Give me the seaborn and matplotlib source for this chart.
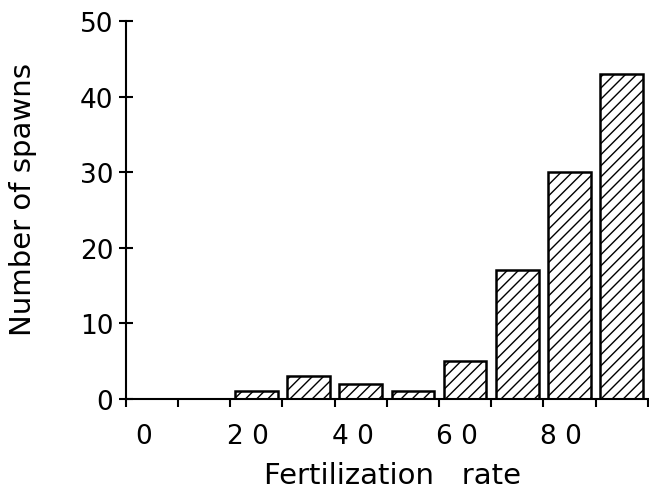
import numpy as np
import pandas as pd
import matplotlib
matplotlib.use('Agg')
import matplotlib.pyplot as plt
import matplotlib.transforms as mtransforms
import seaborn as sns

# fertilization rate bins (%) and number of spawns in each
bin_edges = [0, 10, 20, 30, 40, 50, 60, 70, 80, 90, 100]
bin_mids = [5, 15, 25, 35, 45, 55, 65, 75, 85, 95]
spawns = [0, 0, 1, 3, 2, 1, 5, 17, 30, 43]
x_ticks = [0, 10, 20, 30, 40, 50, 60, 70, 80, 90, 100]
x_labels = ['0', '', '2 0', '', '4 0', '', '6 0', '', '8 0', '', '']
y_ticks = [0, 10, 20, 30, 40, 50]

sns.set_style('ticks')
plt.rcParams['font.family'] = ['DejaVu Sans']
plt.rcParams['hatch.linewidth'] = 1.0

df = pd.DataFrame({'rate': bin_mids, 'n': spawns})

fig = plt.figure(figsize=(6.49, 4.89), dpi=100)
ax = fig.add_axes([0.194, 0.182, 0.804, 0.773])

sns.histplot(data=df, x='rate', weights='n', bins=bin_edges, shrink=0.82,
             color='white', edgecolor='black', linewidth=1.8, hatch='///',
             alpha=1, ax=ax)

ax.set_xlim(0, 100)
ax.set_ylim(0, 50)
ax.set_xticks(x_ticks)
ax.set_xticklabels(x_labels, fontsize=19)
ax.set_yticks(y_ticks)
ax.set_yticklabels([str(v) for v in y_ticks], fontsize=19)

ax.tick_params(axis='x', direction='out', length=6, width=1.5, pad=11,
               colors='black')
ax.tick_params(axis='y', direction='inout', length=10, width=1.5, pad=4,
               colors='black')

# tick labels on the x axis sit a bit to the right of their ticks
offset = mtransforms.ScaledTranslation(0.18, 0, fig.dpi_scale_trans)
for lbl in ax.xaxis.get_majorticklabels():
    lbl.set_transform(lbl.get_transform() + offset)

sns.despine(ax=ax)
ax.spines['left'].set_linewidth(1.5)
ax.spines['bottom'].set_linewidth(1.5)
ax.spines['left'].set_color('black')
ax.spines['bottom'].set_color('black')

ax.set_xlabel('Fertilization   rate', fontsize=21, color='black')
ax.set_ylabel('Number of spawns', fontsize=21, color='black')
ax.xaxis.set_label_coords(0.51, -0.165)
ax.yaxis.set_label_coords(-0.171, 0.53)

fig.savefig('out.png', dpi=100)
